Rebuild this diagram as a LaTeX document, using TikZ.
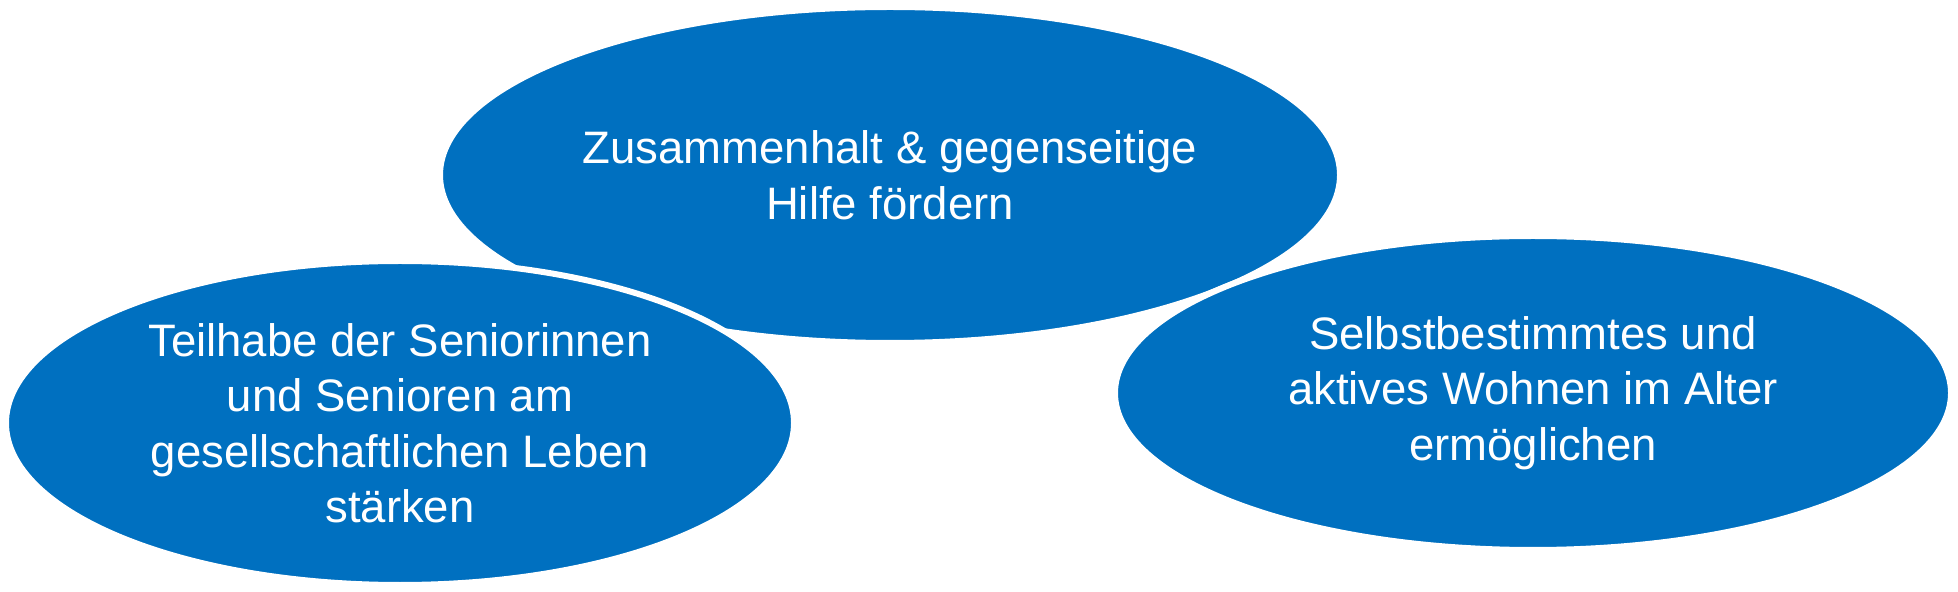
\documentclass[tikz,border=0pt]{standalone}
\usepackage{fontspec}
\setmainfont{Liberation Sans}
\usetikzlibrary{shapes.geometric}
\definecolor{goalblue}{RGB}{0,112,192}

\begin{document}
\begin{tikzpicture}[x=0.5pt,y=-0.5pt,
    % General options for all goal ellipses
    goal/.style={ellipse,
      fill=goalblue,
      draw=white, line width=3pt,
      text=white,
      align=center,
      inner sep=0pt,
      font=\fontsize{22.75}{27.75}\selectfont
    }]
  \useasboundingbox (0,0) rectangle (1958,592);
  % top goal first, the other two overlap it
  \node[goal, minimum width=450pt, minimum height=168pt] (zusammenhalt) at (890,175)
    {Zusammenhalt \& gegenseitige\\Hilfe fördern};
  \node[goal, minimum width=394pt, minimum height=162pt] (teilhabe) at (400,423)
    {Teilhabe der Seniorinnen\\und Senioren am\\gesellschaftlichen Leben\\stärken};
  \node[goal, minimum width=418pt, minimum height=157pt] (wohnen) at (1533,393)
    {Selbstbestimmtes und\\aktives Wohnen im Alter\\ermöglichen};
\end{tikzpicture}
\end{document}
